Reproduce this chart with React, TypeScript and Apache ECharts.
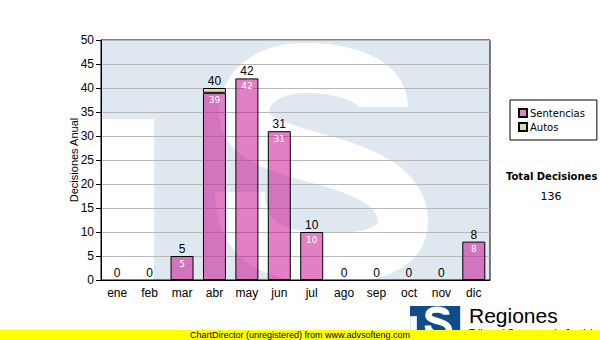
import React, { useEffect, useRef } from "react";
import * as echarts from "echarts";

const categories = ["ene", "feb", "mar", "abr", "may", "jun", "jul", "ago", "sep", "oct", "nov", "dic"];
const sentencias = [0, 0, 5, 39, 42, 31, 10, 0, 0, 0, 0, 8];
const autos = [0, 0, 0, 1, 0, 0, 0, 0, 0, 0, 0, 0];
const totals = categories.map((_, i) => sentencias[i] + autos[i]);
const totalDecisiones = totals.reduce((a, b) => a + b, 0);
const yTicks = { min: 0, max: 50, interval: 5 };

const S_PATH =
  "M 282 67 C 282 40, 244 28, 204 28 C 166 28, 143 48, 143 72 C 143 100, 179 108, 229 122 C 280 137, 302 155, 302 182 C 302 208, 272 218, 229 218 C 179 218, 139 205, 139 152";

let registered = false;
function registerShapes() {
  if (registered) return;
  echarts.graphic.registerShape("sLogo", echarts.graphic.extendPath(S_PATH, {}) as any);
  registered = true;
}

function logoGroup(x: number, y: number, scale: number, bg: string, z: number) {
  return {
    type: "group",
    x,
    y,
    scaleX: scale,
    scaleY: scale,
    z,
    silent: true,
    children: [
      { type: "rect", shape: { x: 0, y: 0, width: 389, height: 240 }, style: { fill: bg }, z },
      { type: "rect", shape: { x: 1, y: 79, width: 52, height: 161 }, style: { fill: "#ffffff" }, z },
      { type: "sLogo", x: 0, y: 0, style: { fill: "none", stroke: "#ffffff", lineWidth: 50 }, z },
    ],
  };
}

export default function App() {
  const ref = useRef<HTMLDivElement>(null);
  useEffect(() => {
    if (!ref.current) return;
    registerShapes();
    const chart = echarts.init(ref.current, undefined, { renderer: "svg" });
    const pink = "rgba(200, 0, 140, 0.5)";
    const green = "#cfe69a";
    chart.setOption({
      animation: false,
      backgroundColor: "#ffffff",
      grid: {
        left: 101,
        top: 40,
        width: 389,
        height: 240,
        show: true,
        borderColor: "#000",
        borderWidth: 1,
        backgroundColor: "transparent",
      },
      legend: {
        data: ["Sentencias", "Autos"],
        orient: "vertical",
        left: 510,
        top: 100,
        width: 80,
        padding: [8, 12, 8, 8],
        itemWidth: 8,
        itemHeight: 8,
        itemGap: 4,
        icon: "rect",
        borderColor: "#000",
        borderWidth: 1,
        backgroundColor: "#fff",
        textStyle: { fontFamily: "DejaVu Sans", fontSize: 10, color: "#000", padding: [0, 0, 0, -2] },
      },
      xAxis: {
        type: "category",
        data: categories,
        axisLine: { lineStyle: { color: "#000", width: 1 } },
        axisTick: { alignWithLabel: true, length: 4, lineStyle: { color: "#000" } },
        axisLabel: { color: "#000", fontFamily: "Liberation Sans", fontSize: 12, margin: 7 },
      },
      yAxis: {
        type: "value",
        min: yTicks.min,
        max: yTicks.max,
        interval: yTicks.interval,
        name: "Decisiones Anual",
        nameLocation: "middle",
        nameGap: 22,
        nameMoveOverlap: false,
        nameTextStyle: { fontFamily: "Liberation Sans", fontSize: 11, color: "#000" },
        axisLine: { show: true, lineStyle: { color: "#000", width: 1 } },
        axisTick: { show: true, length: 5, lineStyle: { color: "#000" } },
        axisLabel: { color: "#000", fontFamily: "Liberation Sans", fontSize: 12, margin: 7 },
        splitLine: { lineStyle: { color: "#b8b8b8", width: 1 } },
      },
      series: [
        {
          name: "Sentencias",
          type: "bar",
          stack: "a",
          barWidth: 23,
          z: 3,
          itemStyle: { color: pink, borderColor: "#000", borderWidth: 1 },
          data: sentencias.map((v) => (v === 0 ? { value: v, itemStyle: { borderWidth: 0 } } : v)),
          label: {
            show: true,
            position: "insideTop",
            distance: 3,
            color: "#fff",
            fontFamily: "DejaVu Sans",
            fontSize: 9,
            formatter: (p: any) => (p.value ? String(p.value) : ""),
          },
        },
        {
          name: "Autos",
          type: "bar",
          stack: "a",
          barWidth: 23,
          z: 3,
          itemStyle: { color: green, borderColor: "#000", borderWidth: 1 },
          data: autos.map((v) => (v === 0 ? { value: v, itemStyle: { borderWidth: 0 } } : v)),
        },
        {
          name: "Total",
          type: "bar",
          stack: "a",
          barWidth: 23,
          z: 3,
          itemStyle: { color: "transparent", borderWidth: 0 },
          data: totals.map(() => 0),
          label: {
            show: true,
            position: "top",
            distance: 1,
            color: "#000",
            fontFamily: "Liberation Sans",
            fontSize: 12,
            formatter: (p: any) => String(totals[p.dataIndex]),
          },
        },
      ],
      graphic: [
        logoGroup(101, 40, 1, "#dfe8f1", -1),
        {
          type: "text",
          left: 551 - 45,
          top: 171,
          style: {
            text: "Total Decisiones",
            fontFamily: "DejaVu Sans",
            fontWeight: "bold",
            fontSize: 10,
            fill: "#000",
            width: 90,
            align: "center",
          },
        },
        {
          type: "text",
          x: 551,
          y: 196,
          style: {
            text: String(totalDecisiones),
            fontFamily: "DejaVu Sans",
            fontSize: 11,
            fill: "#000",
            align: "center",
            verticalAlign: "middle",
          },
        },
        logoGroup(410, 306, 0.1285, "#0f4c8a", 5),
        {
          type: "text",
          x: 469,
          y: 315,
          z: 5,
          style: {
            text: "Regiones",
            fontFamily: "Liberation Sans",
            fontSize: 21,
            fill: "#000",
            verticalAlign: "middle",
          },
        },
        {
          type: "text",
          x: 469,
          y: 328,
          z: 5,
          style: {
            text: "Tribunal Supremo de Justicia",
            fontFamily: "Liberation Sans",
            fontSize: 10,
            fill: "#000",
          },
        },
        {
          type: "rect",
          z: 10,
          shape: { x: 0, y: 330, width: 600, height: 10 },
          style: { fill: "#ffff00" },
        },
        {
          type: "text",
          z: 11,
          x: 300,
          y: 335,
          style: {
            text: "ChartDirector (unregistered) from www.advsofteng.com",
            fontFamily: "Liberation Sans",
            fontSize: 9,
            fill: "#000",
            align: "center",
            verticalAlign: "middle",
          },
        },
      ],
    });
    return () => chart.dispose();
  }, []);
  return (
    <div
      ref={ref}
      style={{ position: "absolute", left: 0, top: 0, width: 600, height: 340 }}
    />
  );
}
